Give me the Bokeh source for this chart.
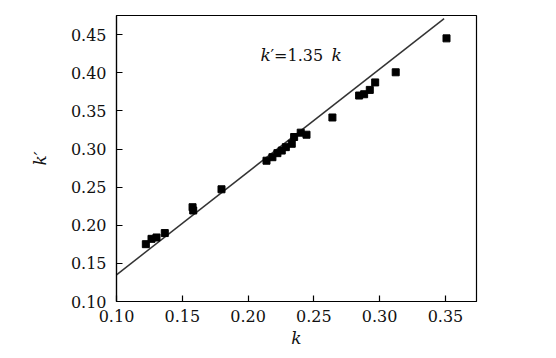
from bokeh.plotting import figure
from bokeh.models import Range1d, FixedTicker, Label, ColumnDataSource
from bokeh.embed import file_html
from bokeh.resources import INLINE

k_vals = [0.1223, 0.1266, 0.1304, 0.1367, 0.1578, 0.1583, 0.1798, 0.2140, 0.2185,
          0.2223, 0.2256, 0.2287, 0.2332, 0.2350, 0.2400, 0.2444, 0.2641, 0.2844,
          0.2882, 0.2925, 0.2966, 0.3122, 0.3508]
kp_vals = [0.1752, 0.1822, 0.1840, 0.1898, 0.2237, 0.2194, 0.2472, 0.2847, 0.2893,
           0.2946, 0.2980, 0.3025, 0.3069, 0.3158, 0.3215, 0.3188, 0.3414, 0.3702,
           0.3719, 0.3776, 0.3874, 0.4007, 0.4452]
slope = 1.35
fit_k = [0.10, 0.349]
fit_kp = [slope * v for v in fit_k]
x_ticks = [0.10, 0.15, 0.20, 0.25, 0.30, 0.35]
y_ticks = [0.10, 0.15, 0.20, 0.25, 0.30, 0.35, 0.40, 0.45]

FONT = "DejaVu Serif"

p = figure(width=540, height=353, output_backend="svg", toolbar_location=None,
           x_range=Range1d(0.10, 0.3736), y_range=Range1d(0.10, 0.4752),
           min_border_left=116, min_border_right=64, min_border_top=15, min_border_bottom=52)
p.grid.visible = False
p.outline_line_color = "black"
p.outline_line_width = 1.2
p.background_fill_color = "white"
p.border_fill_color = "white"

for ax, ticks in ((p.xaxis[0], x_ticks), (p.yaxis[0], y_ticks)):
    ax.ticker = FixedTicker(ticks=ticks)
    ax.major_label_overrides = {t: f"{t:.2f}" for t in ticks}
    ax.major_tick_in = 6
    ax.major_tick_out = 0
    ax.minor_tick_line_color = None
    ax.axis_line_color = "black"
    ax.axis_line_width = 1.2
    ax.major_tick_line_color = "black"
    ax.major_tick_line_width = 1.2
    ax.major_label_text_font = FONT
    ax.major_label_text_font_size = "16px"
    ax.major_label_text_color = "#111111"
    ax.axis_label_text_font = FONT
    ax.axis_label_text_font_style = "italic"
    ax.axis_label_text_font_size = "17px"
    ax.axis_label_text_color = "#111111"

p.xaxis.axis_label = "k"
p.yaxis.axis_label = "k\u2032"
p.xaxis.major_label_standoff = 8
p.yaxis.major_label_standoff = 10
p.xaxis.axis_label_standoff = 3
p.yaxis.axis_label_standoff = 18

p.line(fit_k, fit_kp, line_color="#333333", line_width=1.5)
src = ColumnDataSource(dict(k=k_vals, kp=kp_vals))
p.scatter("k", "kp", source=src, marker="square", size=7, fill_color="black", line_color="black")

ann_x, ann_y = 0.2094, 0.423
p.add_layout(Label(x=ann_x, y=ann_y, text="k", text_font=FONT, text_font_style="italic",
                   text_baseline="alphabetic", text_font_size="17px", text_color="#111111"))
p.add_layout(Label(x=ann_x, y=ann_y, x_offset=10, text="\u2032=1.35", text_font=FONT,
                   text_baseline="alphabetic", text_font_size="16px", text_color="#111111"))
p.add_layout(Label(x=ann_x, y=ann_y, x_offset=71, text="k", text_font=FONT, text_font_style="italic",
                   text_baseline="alphabetic", text_font_size="17px", text_color="#111111"))

open("out.html", "w").write(file_html(p, INLINE))
